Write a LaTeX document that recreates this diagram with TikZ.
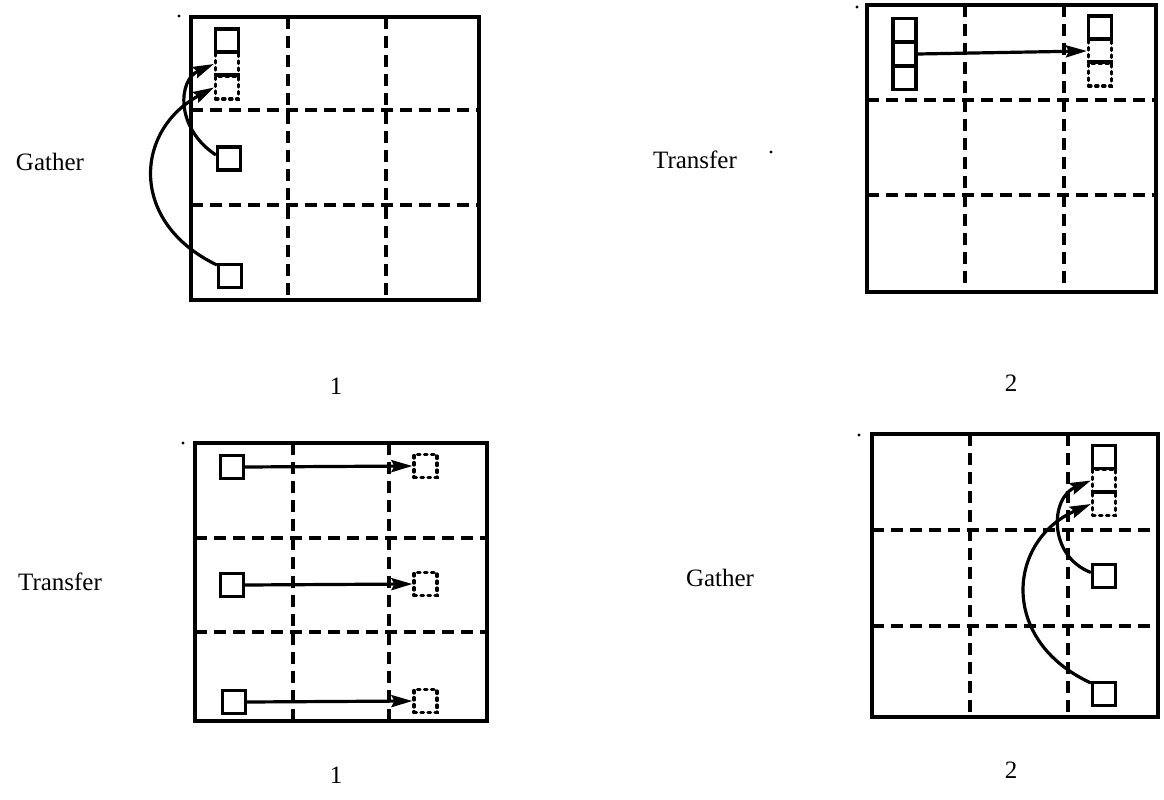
\documentclass[tikz,border=0pt]{standalone}
\usepackage{fontspec}
\setmainfont{Liberation Serif}
\usetikzlibrary{arrows.meta}
\tikzset{
  frame/.style={line width=4pt, line join=miter},
  grid/.style={line width=3.6pt, dash pattern=on 12pt off 7pt},
  cell/.style={draw, line width=3.2pt, minimum width=23pt, minimum height=23pt, inner sep=0pt},
  ghost/.style={draw, line width=3.2pt, dash pattern=on 2.5pt off 4.5pt, line cap=round, minimum width=23pt, minimum height=23pt, inner sep=0pt},
  move/.style={line width=3.2pt, -{Stealth[length=21pt, width=12pt, inset=3pt]}},
  lbl/.style={font=\fontsize{25}{28}\selectfont, inner sep=0pt},
  speck/.style={fill, radius=1.6pt}
}
\begin{document}
\begin{tikzpicture}[x=1pt, y=-1pt]
\useasboundingbox (0,0) rectangle (1164,800);

% ---------- step 1: gather ----------
\draw[frame] (191,17) rectangle (479,300);
\draw[grid] (288,17) -- (288,300) (386,17) -- (386,300);
\draw[grid] (191,110) -- (479,110) (191,205) -- (479,205);
\fill[speck] (179,16) circle;
\node[cell]  (aT) at (227,40.5) {};
\node[ghost] (aG1) at (227,64) {};
\node[ghost] (aG2) at (227,87.5) {};
\draw[line width=2.6pt] (aG2.north west) -- (aG2.north east);
\node[cell]  (aM) at (229,158.5) {};
\node[cell]  (aB) at (230,276) {};
\draw[move] (aM.165) .. controls (175,128) and (178,80) .. (aG1.west);
\draw[move] (aB.140) .. controls (128,222) and (135,130) .. (aG2.west);
\node[lbl] (gatherA) at (50,162) {Gather};
\node[lbl] (oneA) at (336,386) {1};

% ---------- step 2: transfer ----------
\draw[frame] (867,5) rectangle (1156,292);
\draw[grid] (965,5) -- (965,292) (1064,5) -- (1064,292);
\draw[grid] (867,100) -- (1156,100) (867,195) -- (1156,195);
\fill[speck] (857,7) circle;
\fill[speck] (771,152) circle;
\node[cell] (bA) at (904.5,30) {};
\node[cell] (bB) at (904.5,54) {};
\node[cell] (bC) at (904.5,78) {};
\node[cell]  (bT) at (1100,27.5) {};
\node[ghost] (bG1) at (1100,51) {};
\node[ghost] (bG2) at (1100,74.5) {};
\draw[line width=2.6pt] (bG2.north west) -- (bG2.north east);
\draw[move] (bB.east) -- (bG1.west);
\node[lbl] (transferB) at (695,160) {Transfer};
\node[lbl] (twoB) at (1011,383) {2};

% ---------- step 1: transfer ----------
\draw[frame] (195,443) rectangle (487,721);
\draw[grid] (293,443) -- (293,721) (389,443) -- (389,721);
\draw[grid] (195,538) -- (487,538) (195,632) -- (487,632);
\fill[speck] (183,443) circle;
\node[cell]  (cS1) at (232,467) {};
\node[cell]  (cS2) at (232,585) {};
\node[cell]  (cS3) at (234,702) {};
\node[ghost] (cG1) at (425.5,466) {};
\node[ghost] (cG2) at (425.5,584) {};
\node[ghost] (cG3) at (425.5,701) {};
\draw[move] (cS1.east) -- (cG1.west);
\draw[move] (cS2.east) -- (cG2.west);
\draw[move] (cS3.east) -- (cG3.west);
\node[lbl] (transferC) at (60,582) {Transfer};
\node[lbl] (oneC) at (336,775) {1};

% ---------- step 2: gather ----------
\draw[frame] (872,434) rectangle (1158,717);
\draw[grid] (970,434) -- (970,717) (1068,434) -- (1068,717);
\draw[grid] (872,530) -- (1158,530) (872,626) -- (1158,626);
\fill[speck] (859,435) circle;
\node[cell]  (dT) at (1104,457) {};
\node[ghost] (dG1) at (1104,480.5) {};
\node[ghost] (dG2) at (1104,504) {};
\draw[line width=2.6pt] (dG2.north west) -- (dG2.north east);
\node[cell]  (dM) at (1104,576) {};
\node[cell]  (dB) at (1104,694) {};
\draw[move] (dM.165) .. controls (1048,556) and (1050,498) .. (dG1.west);
\draw[move] (dB.140) .. controls (998,640) and (1008,540) .. (dG2.west);
\node[lbl] (gatherD) at (720,578) {Gather};
\node[lbl] (twoD) at (1011,770) {2};
\end{tikzpicture}
\end{document}
